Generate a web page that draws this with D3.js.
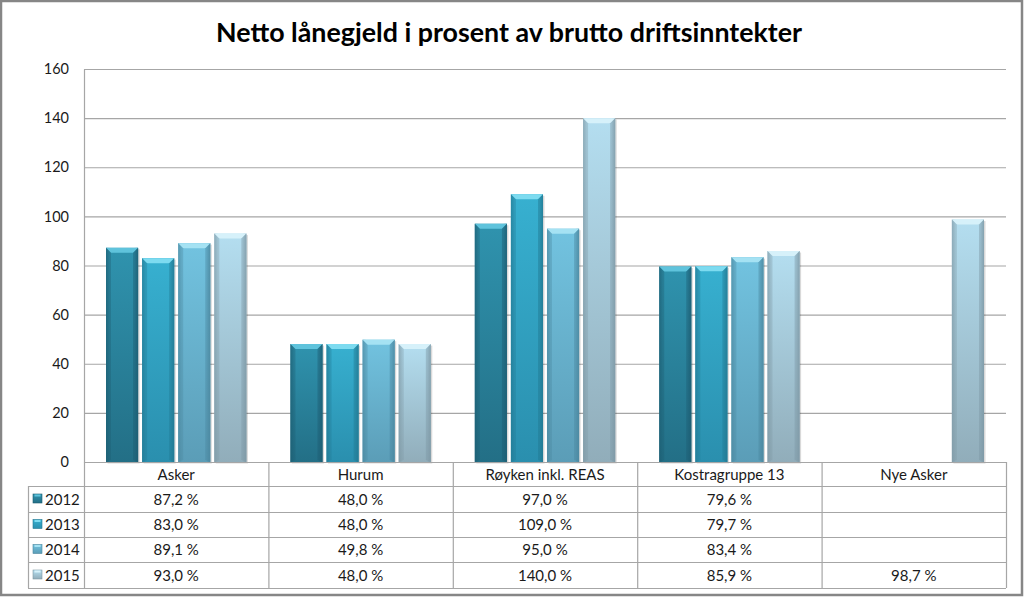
<!DOCTYPE html>
<html><head><meta charset="utf-8">
<script src="https://cdn.jsdelivr.net/npm/d3@7"></script>
<style>
html,body{margin:0;padding:0;background:#fff;}
svg{display:block;font-family:Lato,"Open Sans",sans-serif;}
</style></head>
<body>
<svg id="c" width="1024" height="597"></svg>
<script>
const title = "Netto lånegjeld i prosent av brutto driftsinntekter";
const categories = ["Asker","Hurum","Røyken inkl. REAS","Kostragruppe 13","Nye Asker"];
const years = ["2012","2013","2014","2015"];
const s2012 = [87.2,48.0,97.0,79.6,null];
const s2013 = [83.0,48.0,109.0,79.7,null];
const s2014 = [89.1,49.8,95.0,83.4,null];
const s2015 = [93.0,48.0,140.0,85.9,98.7];
const yTicks = [0,20,40,60,80,100,120,140,160];
const series = [s2012,s2013,s2014,s2015];

const colors = [
  {top:"#2f93ae", bot:"#236f86", edge:"#1c5c70", bevel:"#5fc3dc"},
  {top:"#37b0d0", bot:"#2a8fae", edge:"#217791", bevel:"#7ddbf0"},
  {top:"#72c3e0", bot:"#5b9db7", edge:"#4a869d", bevel:"#a5e2f3"},
  {top:"#b4def0", bot:"#91adba", edge:"#7d97a3", bevel:"#d6f1fa"}
];

const svg = d3.select("#c");
const defs = svg.append("defs");
colors.forEach((c,i)=>{
  const g = defs.append("linearGradient").attr("id","g"+i).attr("x1",0).attr("y1",0).attr("x2",0).attr("y2",1);
  g.append("stop").attr("offset","0%").attr("stop-color",c.top);
  g.append("stop").attr("offset","100%").attr("stop-color",c.bot);
  const h = defs.append("linearGradient").attr("id","h"+i).attr("x1",0).attr("y1",0).attr("x2",1).attr("y2",0);
  h.append("stop").attr("offset","0%").attr("stop-color",c.edge).attr("stop-opacity",0.55);
  h.append("stop").attr("offset","12%").attr("stop-color",c.edge).attr("stop-opacity",0);
  h.append("stop").attr("offset","88%").attr("stop-color",c.edge).attr("stop-opacity",0);
  h.append("stop").attr("offset","100%").attr("stop-color",c.edge).attr("stop-opacity",0.7);
});

const L = 84, R = 1006, T = 69, B = 462;
const x = d3.scaleBand().domain(categories).range([L,R]).paddingInner(0).paddingOuter(0);
const bw = x.bandwidth();
const xi = d3.scaleBand().domain(years).range([22, bw-22]).paddingInner(0.11).paddingOuter(0);
const y = d3.scaleLinear().domain([0,160]).range([B,T]);

// outer frame
svg.append("rect").attr("x",1).attr("y",1).attr("width",1021).attr("height",594)
  .attr("fill","none").attr("stroke","#868686").attr("stroke-width",2.5);

// title
svg.append("text").attr("x",509).attr("y",42).attr("text-anchor","middle")
  .attr("font-size",27).attr("font-weight","bold").attr("fill","#000")
  .attr("textLength",586).attr("lengthAdjust","spacingAndGlyphs").text(title);

// gridlines
svg.append("g").selectAll("line").data(yTicks.filter(d=>d>0)).join("line")
  .attr("x1",L).attr("x2",R).attr("y1",d=>y(d)+0.5).attr("y2",d=>y(d)+0.5)
  .attr("stroke","#a6a6a6").attr("stroke-width",1.2);

// y axis
const ya = svg.append("g").attr("transform",`translate(${L},0)`)
  .call(d3.axisLeft(y).tickValues(yTicks).tickSize(0).tickPadding(15));
ya.select(".domain").attr("stroke","#a6a6a6").attr("stroke-width",1.2);
ya.selectAll("text").attr("font-size",14.5).attr("fill","#1a1a1a").attr("font-family","Lato,sans-serif");

// bars
years.forEach((yr,si)=>{
  const c = colors[si];
  const data = categories.map((cat,ci)=>({cat, v: series[si][ci]})).filter(d=>d.v!=null);
  const g = svg.append("g");
  data.forEach(d=>{
    const x0 = x(d.cat)+xi(yr), w = xi.bandwidth(), y0 = y(d.v), h = B - y0;
    const bg = g.append("g");
    bg.append("rect").attr("x",x0+1.5).attr("y",y0+1.5).attr("width",w).attr("height",h)
      .attr("fill","#000").attr("opacity",0.15);
    bg.append("rect").attr("x",x0).attr("y",y0).attr("width",w).attr("height",h).attr("fill",`url(#g${si})`);
    bg.append("rect").attr("x",x0).attr("y",y0).attr("width",w).attr("height",h).attr("fill",`url(#h${si})`);
    const bv = 5;
    bg.append("path").attr("d",`M${x0},${y0}L${x0+w},${y0}L${x0+w-bv},${y0+bv}L${x0+bv},${y0+bv}Z`)
      .attr("fill",c.bevel);
    bg.append("path").attr("d",`M${x0},${y0}L${x0+bv},${y0+bv}L${x0+bv},${B-2}L${x0},${B}Z`)
      .attr("fill",c.edge).attr("opacity",0.35);
    bg.append("path").attr("d",`M${x0+w},${y0}L${x0+w-bv},${y0+bv}L${x0+w-bv},${B-2}L${x0+w},${B}Z`)
      .attr("fill",c.edge).attr("opacity",0.45);
  });
});

// baseline
svg.append("line").attr("x1",L).attr("x2",R).attr("y1",B+0.5).attr("y2",B+0.5)
  .attr("stroke","#a6a6a6").attr("stroke-width",1.2);

// data table
const rowsY = [486,512,537,562,588];
const tg = svg.append("g");
const lc = "#a6a6a6";
rowsY.forEach(ry=>{
  tg.append("line").attr("x1",28).attr("x2",R).attr("y1",ry+0.5).attr("y2",ry+0.5).attr("stroke",lc).attr("stroke-width",1.2);
});
categories.forEach((cat,i)=>{
  const xe = x(cat)+bw;
  tg.append("line").attr("x1",xe+0.5).attr("x2",xe+0.5).attr("y1",B).attr("y2",588).attr("stroke",lc).attr("stroke-width",1.2);
});
tg.append("line").attr("x1",L+0.5).attr("x2",L+0.5).attr("y1",B).attr("y2",588).attr("stroke",lc).attr("stroke-width",1.2);
tg.append("line").attr("x1",28.5).attr("x2",28.5).attr("y1",486).attr("y2",588).attr("stroke",lc).attr("stroke-width",1.2);

// header labels
tg.selectAll("text.cat").data(categories).join("text").attr("class","cat")
  .attr("x",d=>x(d)+bw/2).attr("y",480).attr("text-anchor","middle")
  .attr("font-size",15).attr("fill","#1a1a1a").text(d=>d);

const fmt = v => v==null ? "" : d3.format(".1f")(v).replace(".",",")+" %";
years.forEach((yr,si)=>{
  const cy = (rowsY[si]+rowsY[si+1])/2 + 5.5;
  const c = colors[si];
  tg.append("rect").attr("x",33).attr("y",cy-10.5).attr("width",9).attr("height",9).attr("fill",`url(#g${si})`)
    .attr("stroke",c.edge).attr("stroke-width",0.6);
  tg.append("rect").attr("x",34.5).attr("y",cy-10).attr("width",6).attr("height",2).attr("fill",c.bevel);
  tg.append("text").attr("x",45).attr("y",cy).attr("font-size",15).attr("fill","#1a1a1a").text(yr);
  tg.selectAll(null).data(categories.map((cat,ci)=>({cat,v:series[si][ci]}))).join("text")
    .attr("x",d=>x(d.cat)+bw/2).attr("y",cy).attr("text-anchor","middle")
    .attr("font-size",15).attr("fill","#1a1a1a").text(d=>fmt(d.v));
});
</script>
</body></html>
